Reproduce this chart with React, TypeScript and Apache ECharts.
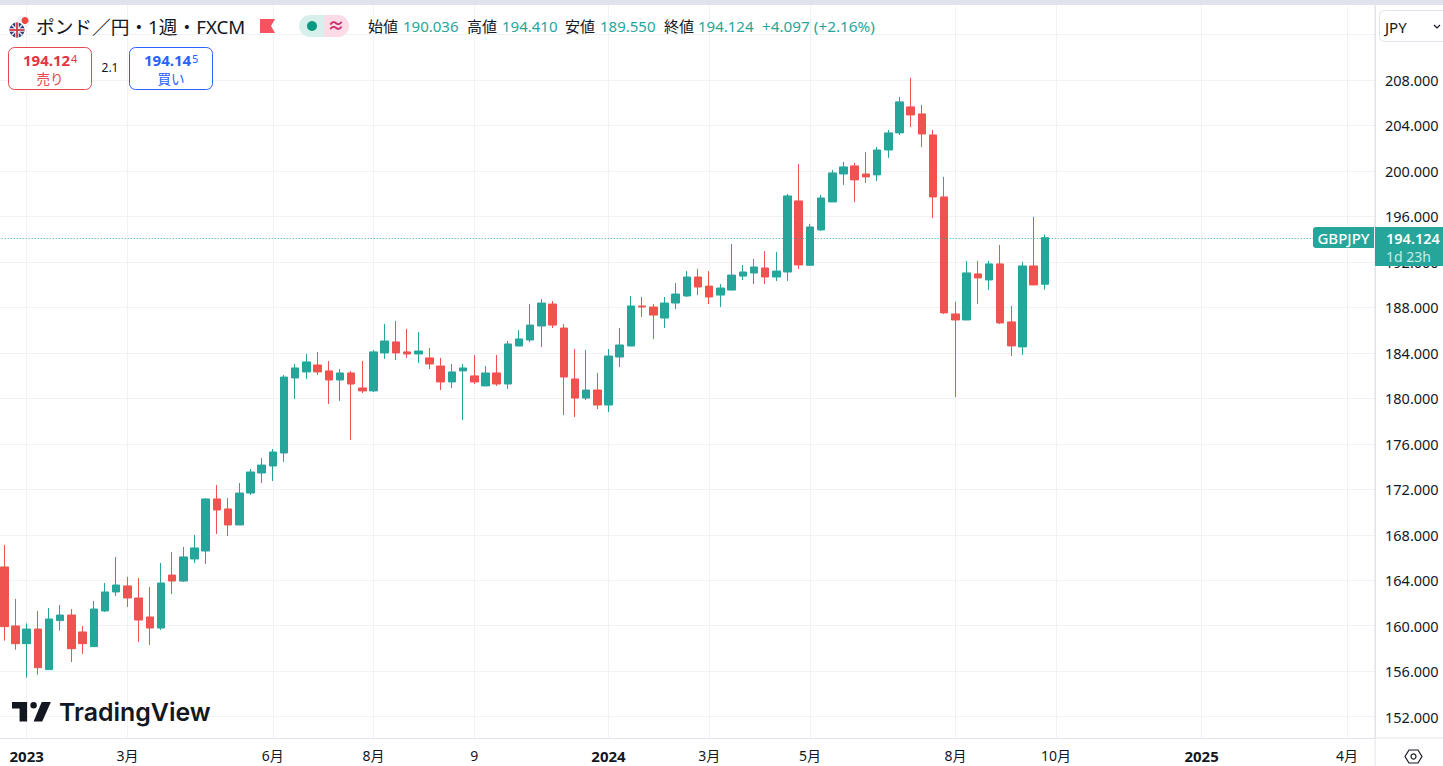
import React, { useEffect, useRef } from "react";
import * as echarts from "echarts";

const opens = [165.17,159.98,158.42,159.71,156.14,160.45,160.94,159.45,158.16,161.3,162.97,163.5,162.44,160.77,159.8,164.46,163.93,165.87,166.57,171.15,170.27,168.86,171.67,173.43,174.05,175.19,181.79,182.32,182.93,182.41,181.61,182.23,180.91,180.65,183.99,184.96,184.08,183.9,183.55,182.84,181.44,182.41,181.97,181.09,182.23,181.26,184.6,185.13,186.36,188.29,186.18,181.7,180.02,180.73,179.41,183.63,184.6,188.12,188.03,187.06,188.38,189,190.67,189.87,189.08,189.52,190.75,191.02,191.46,190.67,191.11,197.36,191.7,194.81,197.27,199.73,200.44,199.73,199.65,201.84,203.34,205.63,205.01,203.16,197.71,187.42,186.89,190.94,190.41,191.82,186.72,184.52,191.64,190.036];
const closes = [159.92,158.42,159.71,156.31,160.59,160.94,157.98,158.42,161.47,162.97,163.58,162.44,160.5,159.8,163.76,163.93,166.05,166.84,171.15,170.18,168.86,171.67,173.52,174.13,175.28,181.87,182.67,183.2,182.32,181.61,182.23,181.26,180.65,184.08,185.04,183.99,183.9,184.16,183.02,181.44,182.32,182.67,181.44,182.23,181.26,184.78,185.22,186.44,188.38,186.44,181.87,180.02,180.73,179.41,183.72,184.69,188.12,188.03,187.32,188.38,189.17,190.67,189.79,188.91,189.7,190.84,191.11,191.55,190.67,191.19,197.8,191.73,195.07,197.62,199.82,200.35,199.21,199.47,201.84,203.34,206.07,204.92,203.25,197.71,187.51,186.89,191.03,190.59,191.82,186.63,184.61,191.64,189.97,194.124];
const lows = [158.69,157.89,155.43,155.7,156.14,159.57,156.81,157.51,158.16,161.21,162.62,161.65,158.57,158.3,159.63,162.79,163.85,165.52,165.43,168.07,167.89,168.86,171.5,172.55,172.73,174.4,179.94,181.7,182.05,179.5,179.77,176.34,180.47,180.56,183.46,183.37,183.55,183.11,182.58,180.73,180.91,178.09,181.26,181.09,181.09,180.82,184.6,184.95,184.51,186.18,178.53,178.35,179.85,179.06,178.79,182.75,184.6,187.15,185.21,186.18,187.85,188.91,189.08,188.29,188.03,189.52,190.4,190.05,190.05,190.31,190.32,191.38,191.7,194.72,197.27,198.77,197.27,198.94,199.12,201.14,203.16,203.87,202.11,195.86,187.42,180.12,186.89,188.3,189.53,186.54,183.73,183.81,189.97,189.55];
const highs = [167.1,162.35,160.21,161.3,161.56,161.82,161.47,159.98,162.18,163.76,166.05,164.29,164.2,163.41,165.52,166.49,166.93,167.98,171.2,172.38,171.23,172.55,173.78,174.75,175.54,182.05,183.02,183.9,184.08,183.28,182.58,182.41,183.28,184.25,186.54,186.8,186.1,185.83,184.43,183.55,183.02,183.02,183.81,182.84,183.81,185.04,186.01,188.29,188.73,188.56,186.53,184.33,184.25,182.22,184.33,186.18,189,188.91,188.29,188.91,190.14,191.19,191.37,191.19,190.05,193.57,191.72,192.25,192.95,192.87,197.97,200.61,195.34,197.89,200.09,200.79,200.7,201.67,202.11,203.6,206.51,208.18,205.8,203.6,199.47,188.48,192.08,192.08,192.08,193.49,188.12,192,195.95,194.41];

const weekCount = 123;
const weeks = Array.from({ length: weekCount }, (_, i) => "w" + i);
const tickIndexes = [2, 11, 24, 33, 42, 54, 63, 72, 85, 94, 107, 120];
const tickLabels = ["2023", "3月", "6月", "8月", "9", "2024", "3月", "5月", "8月", "10月", "2025", "4月"];
const gridPrices = [152,156,160,164,168,172,176,180,184,188,192,196,200,204,208,212];
const labelPrices = [152,156,160,164,168,172,176,180,184,188,192,196,200,204,208];
const lastPrice = 194.124;

const UP = "#26a69a";
const DOWN = "#ef5350";
const GRID = "#f1f2f6";
const AXIS = "#e0e3eb";
const INK = "#131722";
const SANS = "'Noto Sans','Noto Sans CJK JP',sans-serif";

echarts.graphic.registerShape(
  "tvlogo",
  echarts.graphic.extendPath(
    "M14 6H0v6h7v12h7V6ZM28 24h-8L27.5 6H36l-8 18ZM23 9a3 3 0 1 1-6 0 3 3 0 0 1 6 0Z",
    {}
  )
);

const txt = (x: number, y: number, text: string, fill: string, size: number, extra: any = {}) => ({
  type: "text",
  x,
  y,
  z: 100,
  silent: true,
  style: {
    text,
    fill,
    fontSize: size,
    fontFamily: SANS,
    textVerticalAlign: "middle",
    textAlign: "left",
    ...extra,
  },
});

const shape = (type: string, s: any, style: any, extra: any = {}) => ({
  type,
  shape: s,
  style,
  z: 100,
  silent: true,
  ...extra,
});

export default function App() {
  const ref = useRef<HTMLDivElement>(null);
  useEffect(() => {
    document.body.style.margin = "0";
    document.body.style.overflow = "hidden";
    const chart = echarts.init(ref.current!, undefined, { renderer: "svg" });
    const labelOf = new Map(tickIndexes.map((ix, k) => [weeks[ix], tickLabels[k]]));
    const isTick = (i: number) => tickIndexes.includes(i);
    const candles = opens.map((o, i) => [o, closes[i], lows[i], highs[i]]);
    const graphic: any[] = [
      shape("rect", { x: 0, y: 0, width: 1443, height: 5 }, { fill: "#e0e3eb" }),
      shape("line", { x1: 1375, y1: 738, x2: 1443, y2: 738 }, { stroke: AXIS, lineWidth: 1 }),
      shape("line", { x1: 1375, y1: 5, x2: 1375, y2: 766 }, { stroke: AXIS, lineWidth: 1 }),
      // symbol icon
      shape("circle", { cx: 23, cy: 22, r: 6.5 }, { fill: "#eef1f6" }),
      shape("circle", { cx: 25, cy: 20.5, r: 3.5 }, { fill: "#f2453d" }),
      shape("circle", { cx: 17, cy: 30, r: 8.5 }, { fill: "#fff" }),
      shape("circle", { cx: 17, cy: 30, r: 7.5 }, { fill: "#2a3f7e" }),
      shape("line", { x1: 11.5, y1: 24.5, x2: 22.5, y2: 35.5 }, { stroke: "#f3e6ea", lineWidth: 1.5 }),
      shape("line", { x1: 22.5, y1: 24.5, x2: 11.5, y2: 35.5 }, { stroke: "#f3e6ea", lineWidth: 1.5 }),
      shape("line", { x1: 9.5, y1: 30, x2: 24.5, y2: 30 }, { stroke: "#fff", lineWidth: 3.4 }),
      shape("line", { x1: 17, y1: 22.5, x2: 17, y2: 37.5 }, { stroke: "#fff", lineWidth: 3.4 }),
      shape("line", { x1: 9.5, y1: 30, x2: 24.5, y2: 30 }, { stroke: "#d8344a", lineWidth: 1.8 }),
      shape("line", { x1: 17, y1: 22.5, x2: 17, y2: 37.5 }, { stroke: "#d8344a", lineWidth: 1.8 }),
      txt(36, 26, "ポンド／円・1週・FXCM", INK, 18.7),
      shape("polygon", { points: [[260, 19], [275, 19], [271, 26], [275, 33], [260, 33]] }, { fill: "#f7525f" }),
      shape("rect", { x: 299, y: 15, width: 25, height: 22, r: [11, 0, 0, 11] }, { fill: "#d8f0ec" }),
      shape("rect", { x: 324, y: 15, width: 25, height: 22, r: [0, 11, 11, 0] }, { fill: "#fbdce6" }),
      shape("circle", { cx: 312, cy: 26, r: 5 }, { fill: "#089981" }),
      txt(336, 25.5, "≈", "#cc2f6c", 17, { textAlign: "center", fontWeight: 700 }),
      txt(368, 26, "始値", INK, 15),
      txt(403, 26, "190.036", UP, 15),
      txt(467, 26, "高値", INK, 15),
      txt(502, 26, "194.410", UP, 15),
      txt(565, 26, "安値", INK, 15),
      txt(600, 26, "189.550", UP, 15),
      txt(664, 26, "終値", INK, 15),
      txt(698, 26, "194.124", UP, 15),
      txt(762, 26, "+4.097 (+2.16%)", UP, 15.3),
      // sell / buy
      shape("rect", { x: 8.5, y: 47.5, width: 83, height: 42, r: 6 }, { fill: "#fff", stroke: "#e5474f", lineWidth: 1 }),
      txt(23, 59.5, "194.12", "#e5343f", 15, { fontWeight: 700 }),
      txt(71, 58, "4", "#e5343f", 11),
      txt(50, 79, "売り", "#e5474f", 13.5, { textAlign: "center" }),
      txt(110, 67.5, "2.1", INK, 12, { textAlign: "center" }),
      shape("rect", { x: 129.5, y: 47.5, width: 83, height: 42, r: 6 }, { fill: "#fff", stroke: "#2962ff", lineWidth: 1 }),
      txt(144, 59.5, "194.14", "#2962ff", 15, { fontWeight: 700 }),
      txt(192, 58, "5", "#2962ff", 11),
      txt(171, 79, "買い", "#2962ff", 13.5, { textAlign: "center" }),
      // logo
      { type: "tvlogo", x: 12, y: 695.5, scaleX: 1.08, scaleY: 1.08, z: 100, silent: true, style: { fill: INK } },
      txt(59, 712, "TradingView", INK, 24.9, { fontWeight: 600, fontFamily: "Inter,sans-serif" }),
      // currency button
      shape("rect", { x: 1379.5, y: 10.5, width: 70, height: 31, r: 5 }, { fill: "#fff", stroke: AXIS, lineWidth: 1 }),
      txt(1385, 26.5, "JPY", INK, 15),
      shape("polyline", { points: [[1434, 25], [1437, 28], [1440, 25]] }, { stroke: INK, lineWidth: 1.2, fill: "none" }),
      // price tags
      shape("rect", { x: 1313, y: 227, width: 61, height: 21, r: [3, 0, 0, 3] }, { fill: UP }),
      txt(1343.5, 238, "GBPJPY", "#fff", 15, { textAlign: "center", fontWeight: 500 }),
      shape("rect", { x: 1375, y: 227, width: 68, height: 39, r: 0 }, { fill: UP }),
      txt(1386, 238, "194.124", "#fff", 14.5, { fontWeight: 600 }),
      txt(1386, 256, "1d 23h", "#c3ebe6", 14),
      // settings icon
      shape("polygon", { points: [[1405, 756.5], [1409, 750], [1418, 750], [1422, 756.5], [1418, 763], [1409, 763]] }, { fill: "none", stroke: INK, lineWidth: 1.2 }),
      shape("circle", { cx: 1413.5, cy: 756.5, r: 2.5 }, { fill: "none", stroke: INK, lineWidth: 1.2 }),
    ];
    chart.setOption({
      animation: false,
      backgroundColor: "#ffffff",
      grid: { left: -1.3, right: 68, top: 5, bottom: 766 - 738.3, containLabel: false, outerBoundsMode: "none" },
      xAxis: {
        type: "category",
        data: weeks,
        boundaryGap: true,
        axisLine: { show: true, lineStyle: { color: AXIS, width: 1 } },
        axisTick: { show: false },
        splitLine: {
          show: true,
          alignWithLabel: true,
          interval: (i: number) => isTick(i),
          lineStyle: { color: GRID, width: 1 },
        },
        axisLabel: {
          interval: (i: number) => isTick(i),
          margin: 10,
          color: INK,
          fontSize: 14,
          fontFamily: SANS,
          hideOverlap: false,
          formatter: (v: string) => {
            const s = labelOf.get(v) ?? "";
            return /^\d{4}$/.test(s) ? `{y|${s}}` : s;
          },
          rich: { y: { fontWeight: 700, fontSize: 15, color: INK, fontFamily: SANS } },
        },
      },
      yAxis: {
        type: "value",
        position: "right",
        min: 150.1,
        max: 214.59,
        axisLine: { show: true, lineStyle: { color: AXIS, width: 1 } },
        axisTick: { show: false, customValues: gridPrices },
        splitLine: { show: true, lineStyle: { color: GRID, width: 1 } },
        axisLabel: {
          customValues: labelPrices,
          margin: 10,
          color: INK,
          fontSize: 14.5,
          fontFamily: SANS,
          padding: [0, 0, 2, 0],
          formatter: (v: number) => v.toFixed(3),
        },
      },
      series: [
        {
          type: "candlestick",
          data: candles,
          barWidth: 8,
          clip: true,
          itemStyle: { color: UP, color0: DOWN, borderColor: UP, borderColor0: DOWN, borderWidth: 1 },
          markLine: {
            silent: true,
            symbol: "none",
            label: { show: false },
            lineStyle: { color: UP, type: [1, 2], width: 1 },
            data: [{ yAxis: lastPrice }],
          },
        },
      ],
      graphic,
    });
    return () => chart.dispose();
  }, []);
  return <div ref={ref} style={{ position: "absolute", left: 0, top: 0, width: 1443, height: 766 }} />;
}
